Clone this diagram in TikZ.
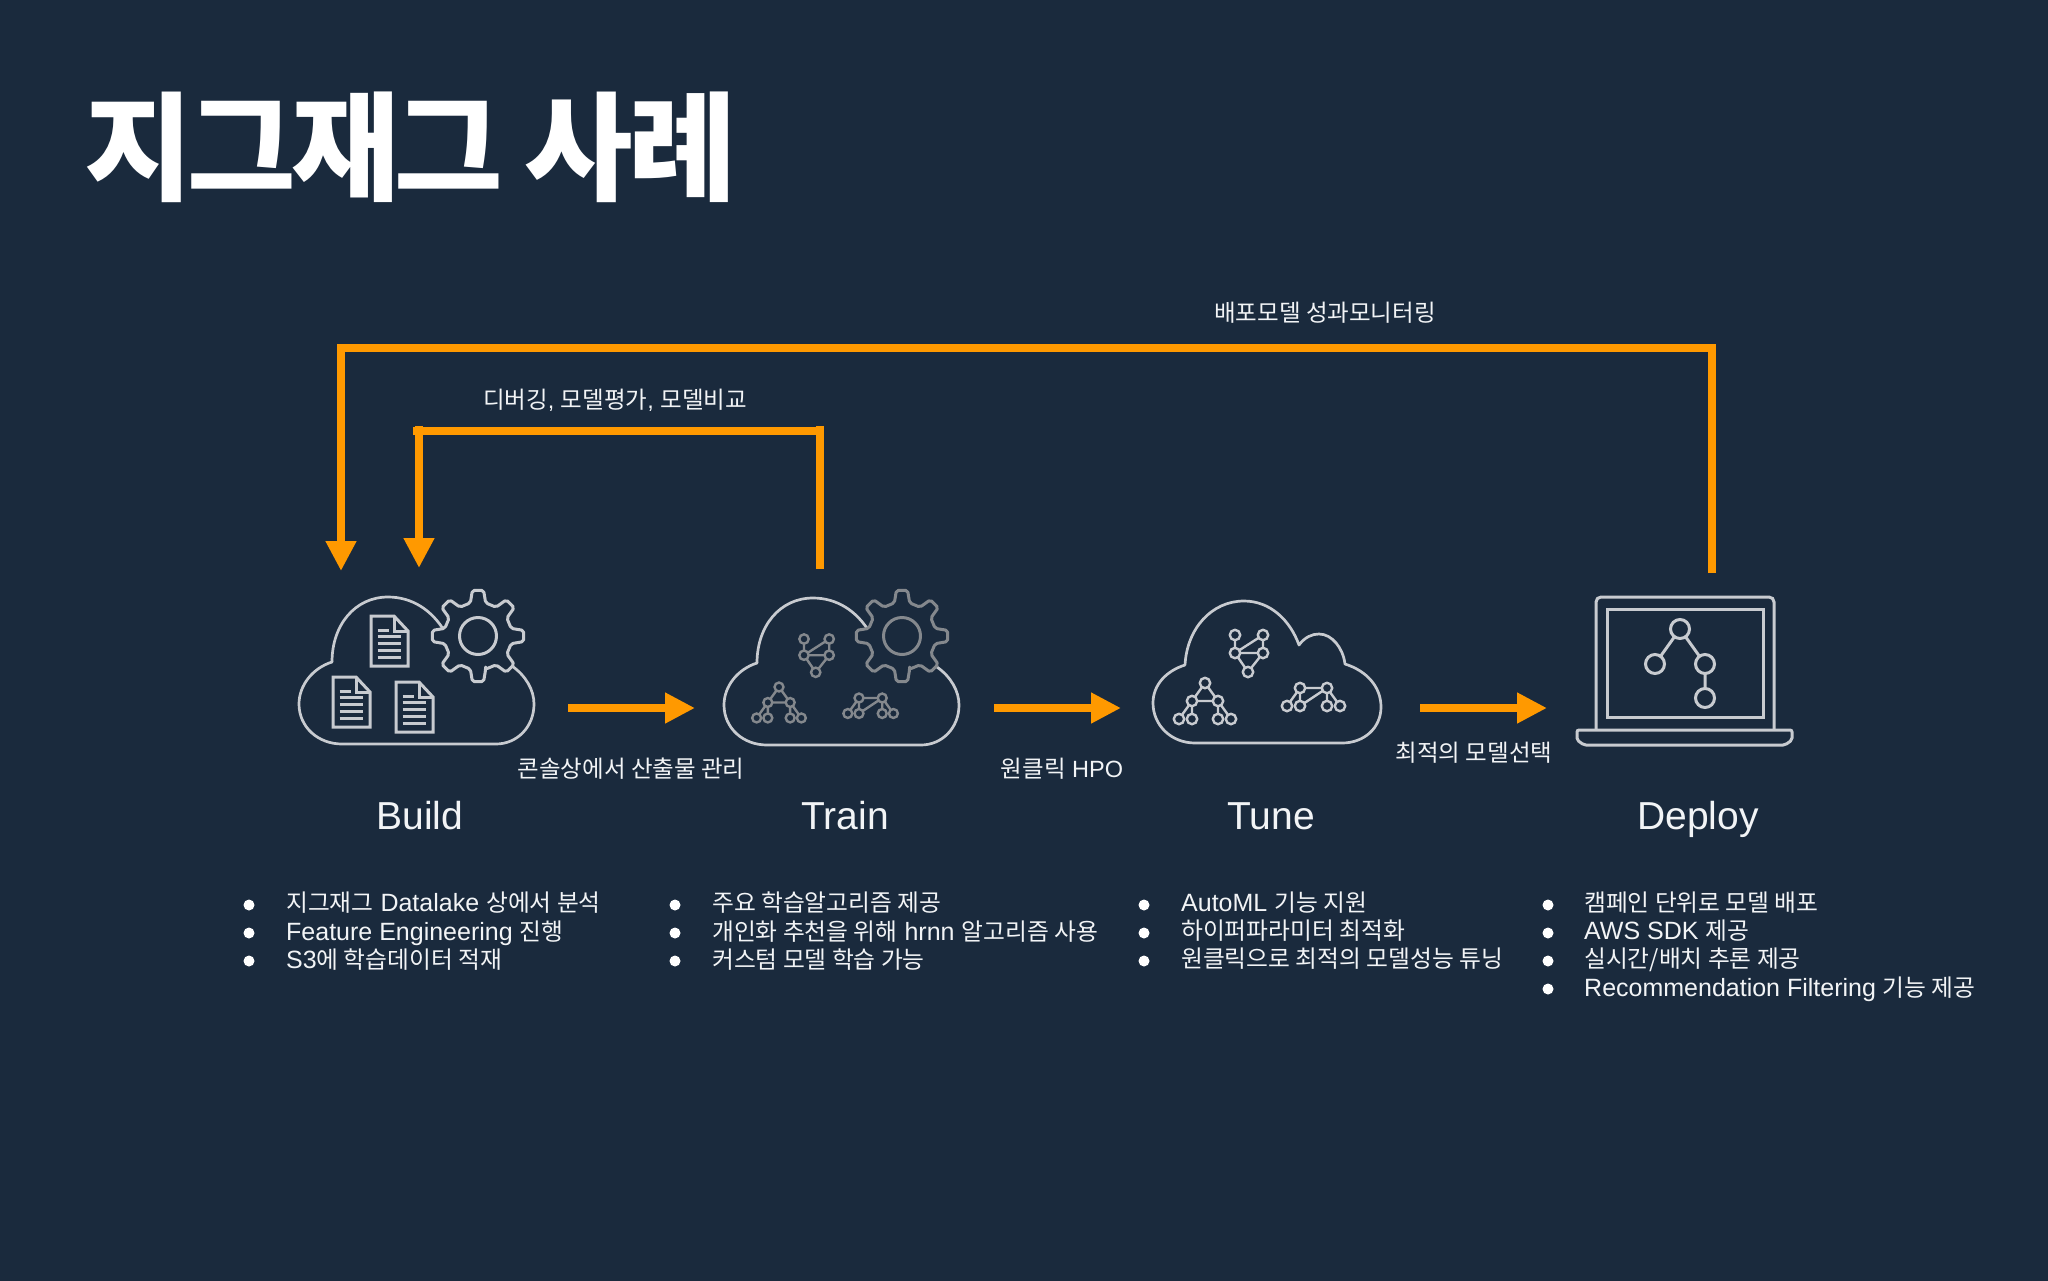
\documentclass[tikz,border=0pt]{standalone}
\usepackage{fontspec}
\usetikzlibrary{arrows.meta}
\setmainfont{Liberation Sans}
\newfontfamily\krf{Noto Sans CJK KR}
\newfontfamily\krs[Scale=0.95]{Noto Sans CJK KR}
\newfontfamily\krt[LetterSpace=-4.4]{Noto Sans CJK KR}
\newcommand{\ko}[1]{{\krf #1}}
\newcommand{\ks}[1]{{\krs #1}}
\definecolor{bgc}{HTML}{1A2A3D}
\definecolor{org}{HTML}{FF9900}
\definecolor{icn}{HTML}{C8CBD0}
\definecolor{icg}{HTML}{84888D}
\definecolor{txt}{HTML}{F2F4F6}
\tikzset{
  flowarrow/.style={draw=org,line width=8pt,-{Triangle[length=30pt,width=29pt]}},
  fbline/.style={draw=org,line width=8pt},
  cloudline/.style={draw=icn,line width=2.7pt,line cap=round,line join=round},
  label/.style={text=txt,font=\fontsize{23.5}{28}\selectfont,inner sep=0pt,anchor=base},
  stage/.style={text=txt,font=\fontsize{39}{44}\selectfont,inner sep=0pt,anchor=base},
  item/.style={text=txt,font=\fontsize{25}{30}\selectfont,inner sep=0pt,anchor=base west},
  dot/.style={circle,fill=white,inner sep=0pt,minimum size=11pt},
}
% gear: centre x, y, colour
\newcommand{\mygear}[3]{%
  \begin{scope}[shift={(#1,#2)}]
    \filldraw[fill=bgc,draw=#3,line width=3pt,line join=round,rounded corners=2pt]
      (77:34) \foreach \a in {90,135,180,225,270,315,360,405}{ -- (\a-13:34) -- (\a-7:46) -- (\a+7:46) -- (\a+13:34)} -- cycle;
    \draw[#3,line width=3pt] (0,0) circle[radius=18.5];
  \end{scope}}
% document icon: left, top
\newcommand{\mydoc}[2]{%
  \begin{scope}[shift={(#1,#2)},icn,line width=3pt,line join=miter]
    \draw (0,0) -- (23,0) -- (37,15) -- (37,50) -- (0,50) -- cycle;
    \draw (23,0) -- (23,15) -- (37,15);
    \draw (6.5,14) -- (18,14);
    \foreach \v in {20,27,34,41}{\draw (6.5,\v) -- (29.5,\v);}
  \end{scope}}
\newcommand{\gnode}[2]{\filldraw[fill=bgc] (#1,#2) circle[radius=5.2];}
% three small graphs: x, y, scale, colour
\newcommand{\grapha}[4]{%
  \begin{scope}[shift={(#1,#2)},scale=#3,draw=#4,line width=2.4pt]
    \draw (0,0)--(0,18) (28,0)--(28,18) (28,0)--(0,18) (0,18)--(28,18) (0,18)--(13,37) (28,18)--(13,37);
    \gnode{0}{0}\gnode{28}{0}\gnode{0}{18}\gnode{28}{18}\gnode{13}{37}
  \end{scope}}
\newcommand{\graphb}[4]{%
  \begin{scope}[shift={(#1,#2)},scale=#3,draw=#4,line width=2.4pt]
    \draw (0,0)--(-13,18) (0,0)--(13,18) (-13,18)--(13,18) (-13,18)--(-26,36) (-13,18)--(-13,36) (13,18)--(13,36) (13,18)--(26,36);
    \gnode{0}{0}\gnode{-13}{18}\gnode{13}{18}\gnode{-26}{36}\gnode{-13}{36}\gnode{13}{36}\gnode{26}{36}
  \end{scope}}
\newcommand{\graphc}[4]{%
  \begin{scope}[shift={(#1,#2)},scale=#3,draw=#4,line width=2.4pt]
    \draw (0,0)--(27,0) (0,0)--(-13,18) (0,0)--(0,18) (27,0)--(27,18) (27,0)--(40,18) (27,0)--(0,18);
    \gnode{0}{0}\gnode{27}{0}\gnode{-13}{18}\gnode{0}{18}\gnode{27}{18}\gnode{40}{18}
  \end{scope}}
\newcommand{\gearcloud}[2]{%
  \begin{scope}[shift={(#1,#2)}]
    \draw[cloudline] (332,662) .. controls (332,625) and (355,597) .. (388,597)
      .. controls (412,597) and (432,610) .. (445,632);
    \draw[cloudline] (512,666) .. controls (526,676) and (534,690) .. (534,704)
      .. controls (534,727) and (517,744) .. (496,744) -- (342,744)
      .. controls (318,744) and (299,727) .. (299,704)
      .. controls (299,685) and (313,668) .. (332,662);
  \end{scope}}
\begin{document}
\begin{tikzpicture}[x=1pt,y=-1pt]
\useasboundingbox (0,0) rectangle (2048,1280);
\fill[bgc] (-5,-5) rectangle (2053,1285);

% title
\node[name=title,text=white,font=\fontsize{118}{130}\selectfont\krt\bfseries,inner sep=0pt,anchor=base west] at (84,191) {지그재그 사례};

% build icon
\gearcloud{0}{0}
\mygear{478}{636}{icn}
\mydoc{371}{616}
\mydoc{333}{677}
\mydoc{396}{682}

% train icon
\gearcloud{425}{1}
\grapha{804}{639}{0.9}{icg}
\graphb{779}{687}{0.86}{icg}
\graphc{859}{698}{0.86}{icg}
\mygear{902}{636}{icg}

% tune icon
\draw[cloudline] (1185,665) .. controls (1187,628) and (1212,601) .. (1244,601)
  .. controls (1270,601) and (1290,620) .. (1299,645)
  .. controls (1305,637) and (1312,634) .. (1319,634)
  .. controls (1332,634) and (1343,648) .. (1345,664)
  .. controls (1367,671) and (1381,687) .. (1381,707)
  .. controls (1381,728) and (1364,743) .. (1342,743) -- (1195,743)
  .. controls (1171,743) and (1153,725) .. (1153,703)
  .. controls (1153,685) and (1166,671) .. (1185,665);
\grapha{1235}{635}{1}{icn}
\graphb{1205}{683}{1}{icn}
\graphc{1300}{688}{1}{icn}

% deploy icon
\begin{scope}[icn,line width=3pt]
  \draw[rounded corners=5pt] (1596,729) -- (1596,597) -- (1774,597) -- (1774,729);
  \draw (1607,609) rectangle (1763,717);
  \draw[rounded corners=2pt] (1577,730) -- (1792,730) -- (1792,740) -- (1785,745) -- (1584,745) -- (1577,740) -- cycle;
  \draw (1680,629) -- (1655,664) (1680,629) -- (1705,664) -- (1705,698);
  \filldraw[fill=bgc] (1680,629) circle[radius=9.5];
  \filldraw[fill=bgc] (1655,664) circle[radius=9.5];
  \filldraw[fill=bgc] (1705,664) circle[radius=9.5];
  \filldraw[fill=bgc] (1705,698) circle[radius=9.5];
\end{scope}

% connector ends
\coordinate (buildOut) at (568,708);
\coordinate (trainIn)  at (695,708);
\coordinate (trainOut) at (994,708);
\coordinate (tuneIn)   at (1121,708);
\coordinate (tuneOut)  at (1420,708);
\coordinate (deployIn) at (1547,708);
\coordinate (deployUp) at (1712,573);
\coordinate (deployCorner) at (1712,345);
\coordinate (longRight) at (1716,348);
\coordinate (longLeft) at (337,348);
\coordinate (longDrop) at (341,345);
\coordinate (buildInA) at (341,571);
\coordinate (trainUp) at (820,569);
\coordinate (trainCorner) at (820,426);
\coordinate (midRight) at (820,431);
\coordinate (midLeft) at (413,431);
\coordinate (midDrop) at (419,426);
\coordinate (buildInB) at (419,568);

\draw[flowarrow] (buildOut) -- (trainIn);
\draw[flowarrow] (trainOut) -- (tuneIn);
\draw[flowarrow] (tuneOut) -- (deployIn);
\draw[fbline] (deployUp) -- (deployCorner);
\draw[fbline] (longRight) -- (longLeft);
\draw[flowarrow] (longDrop) -- (buildInA);
\draw[fbline] (trainUp) -- (trainCorner);
\draw[fbline] (midRight) -- (midLeft);
\draw[flowarrow] (midDrop) -- (buildInB);

% connector labels
\node[label,name=lab1] at (1325,321) {\ko{배포모델 성과모니터링}};
\node[label,name=lab2] at (615,408) {\ko{디버깅}, \ko{모델평가}, \ko{모델비교}};
\node[label,name=lab3] at (631,777) {\ko{콘솔상에서 산출물 관리}};
\node[label,name=lab4] at (1062,777) {\ko{원클릭} HPO};
\node[label,name=lab5] at (1474,761) {\ko{최적의 모델선택}};

% stage names
\node[stage,name=sBuild] at (420,829) {Build};
\node[stage,name=sTrain] at (845,829) {Train};
\node[stage,name=sTune] at (1271,829) {Tune};
\node[stage,name=sDeploy] at (1698,829) {Deploy};

% lists
\node[dot,name=d11] at (249,905) {};
\node[dot,name=d12] at (249,933) {};
\node[dot,name=d13] at (249,961) {};
\node[item,name=t11] at (286,911) {\ks{지그재그} Datalake \ks{상에서 분석}};
\node[item,name=t12] at (286,940) {Feature Engineering \ks{진행}};
\node[item,name=t13] at (286,968) {S3\ks{에 학습데이터 적재}};

\node[dot,name=d21] at (675,905) {};
\node[dot,name=d22] at (675,933) {};
\node[dot,name=d23] at (675,961) {};
\node[item,name=t21] at (712,911) {\ks{주요 학습알고리즘 제공}};
\node[item,name=t22] at (712,940) {\ks{개인화 추천을 위해} hrnn \ks{알고리즘 사용}};
\node[item,name=t23] at (712,968) {\ks{커스텀 모델 학습 가능}};

\node[dot,name=d31] at (1144,905) {};
\node[dot,name=d32] at (1144,933) {};
\node[dot,name=d33] at (1144,961) {};
\node[item,name=t31] at (1181,911) {AutoML \ks{기능 지원}};
\node[item,name=t32] at (1181,939) {\ks{하이퍼파라미터 최적화}};
\node[item,name=t33] at (1181,967) {\ks{원클릭으로 최적의 모델성능 튜닝}};

\node[dot,name=d41] at (1548,905) {};
\node[dot,name=d42] at (1548,933) {};
\node[dot,name=d43] at (1548,961) {};
\node[dot,name=d44] at (1548,989) {};
\node[item,name=t41] at (1584,911) {\ks{캠페인 단위로 모델 배포}};
\node[item,name=t42] at (1584,939) {AWS SDK \ks{제공}};
\node[item,name=t43] at (1584,967) {\ks{실시간/배치 추론 제공}};
\node[item,name=t44] at (1584,996) {Recommendation Filtering \ks{기능 제공}};
\end{tikzpicture}
\end{document}
